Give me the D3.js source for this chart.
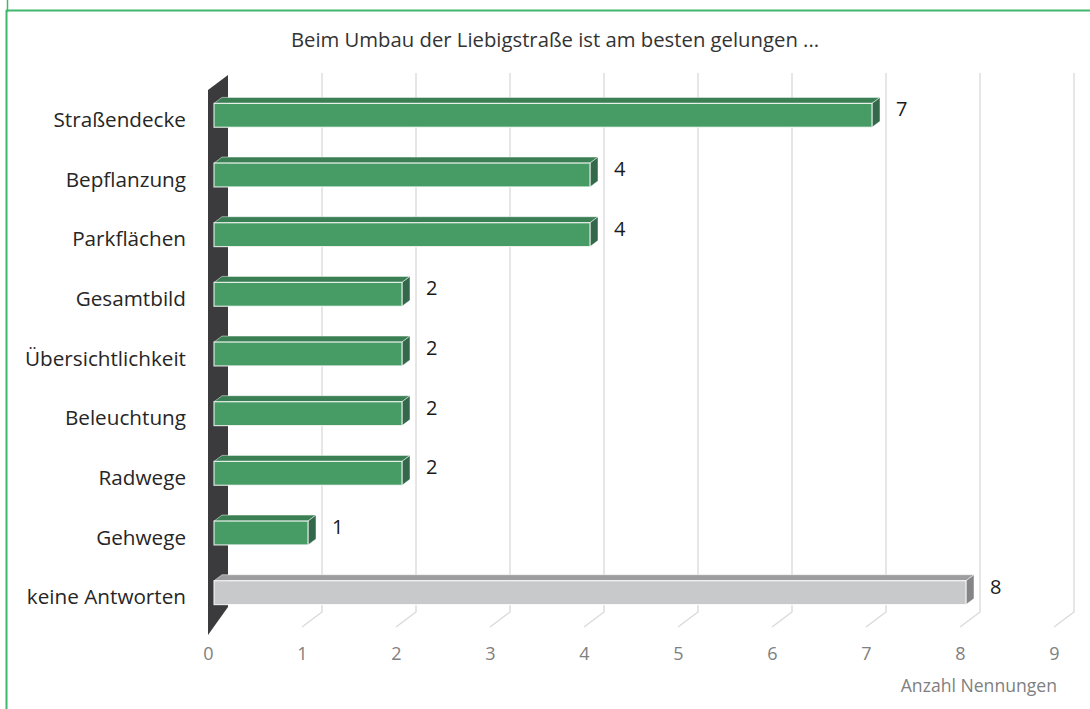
<!DOCTYPE html>
<html>
<head>
<meta charset="utf-8">
<script src="https://cdn.jsdelivr.net/npm/d3@7"></script>
<style>
  body { margin: 0; background: #fff; }
  text { font-family: "Open Sans", "Noto Sans", sans-serif; }
</style>
</head>
<body>
<div id="chart"></div>
<script>
var categories = ["Straßendecke", "Bepflanzung", "Parkflächen", "Gesamtbild", "Übersichtlichkeit",
                  "Beleuchtung", "Radwege", "Gehwege", "keine Antworten"];
var values = [7, 4, 4, 2, 2, 2, 2, 1, 8];
var ticks = [0, 1, 2, 3, 4, 5, 6, 7, 8, 9];
var title = "Beim Umbau der Liebigstraße ist am besten gelungen ...";
var axisTitle = "Anzahl Nennungen";

var width = 1090, height = 709;

var svg = d3.select("#chart").append("svg")
    .attr("width", width)
    .attr("height", height);

// 3d depth: full depth moves (+20, -15)
var depthX = 20, depthY = -15;
function off(f) { return [depthX * f, depthY * f]; }

var x = d3.scaleLinear().domain([0, 9]).range([208, 208 + 94 * 9]);
var y = d3.scaleBand().domain(categories).range([90, 627]).paddingInner(0.6).paddingOuter(0.3);

// green frame
var frame = "#3fb86b";
svg.append("line").attr("x1", 6).attr("x2", width).attr("y1", 10.5).attr("y2", 10.5)
    .attr("stroke", frame).attr("stroke-width", 2);
svg.append("line").attr("x1", 6.5).attr("x2", 6.5).attr("y1", 10).attr("y2", height)
    .attr("stroke", frame).attr("stroke-width", 2);
svg.append("line").attr("x1", 7.5).attr("x2", 7.5).attr("y1", 0).attr("y2", 12)
    .attr("stroke", frame).attr("stroke-width", 1.5);

// title
svg.append("text")
    .attr("x", 555).attr("y", 47)
    .attr("text-anchor", "middle")
    .attr("fill", "#333")
    .style("font-size", "20.3px")
    .text(title);

var yTop = y.range()[0], yBot = y.range()[1];
var back = off(1);

// back wall gridlines + floor lines
var grid = svg.append("g").attr("stroke", "#d9d9d9").attr("stroke-width", 1.3).attr("fill", "none");
ticks.slice(1).forEach(function(t) {
  var bx = x(t) + back[0];
  grid.append("path")
      .attr("d", "M" + bx + "," + (yTop + back[1] - 2) + "L" + bx + "," + (yBot + back[1]) +
                 "L" + x(t) + "," + yBot);
});

// dark side wall
svg.append("path")
    .attr("d", "M208,90L228,75L228,607L208,635Z")
    .attr("fill", "#3b3b3d");

// bars
var fFront = 0.3, fBack = 0.7;
var pf = off(fFront), pb = off(fBack);
var dx = pb[0] - pf[0], dy = pb[1] - pf[1];

var colors = {
  green: { front: "#479c66", top: "#3b7f54", side: "#33694a" },
  gray:  { front: "#c8c9cb", top: "#9d9d9f", side: "#858587" }
};

var bars = svg.selectAll(".bar")
    .data(categories.map(function(c, i) { return { cat: c, v: values[i], last: i === categories.length - 1 }; }))
  .enter().append("g")
    .attr("class", "bar");

bars.each(function(d) {
  var g = d3.select(this);
  var c = d.last ? colors.gray : colors.green;
  var x0 = x(0) + pf[0], x1 = x(d.v) + pf[0];
  var y0 = y(d.cat) + pf[1], y1 = y0 + y.bandwidth();
  // top face
  g.append("path")
      .attr("d", "M" + x0 + "," + y0 + "L" + (x0 + dx) + "," + (y0 + dy) + "L" + (x1 + dx) + "," + (y0 + dy) +
                 "L" + x1 + "," + y0 + "Z")
      .attr("fill", c.top).attr("stroke", "#fff").attr("stroke-opacity", 0.6).attr("stroke-width", 0.8);
  // side face
  g.append("path")
      .attr("d", "M" + x1 + "," + y0 + "L" + (x1 + dx) + "," + (y0 + dy) + "L" + (x1 + dx) + "," + (y1 + dy) +
                 "L" + x1 + "," + y1 + "Z")
      .attr("fill", c.side).attr("stroke", "#fff").attr("stroke-opacity", 0.6).attr("stroke-width", 0.8);
  // front face
  g.append("rect")
      .attr("x", x0).attr("y", y0)
      .attr("width", x1 - x0).attr("height", y1 - y0)
      .attr("fill", c.front).attr("stroke", "#fff").attr("stroke-opacity", 0.8).attr("stroke-width", 1.2);
  // value label
  g.append("text")
      .attr("x", x1 + dx + 16)
      .attr("y", (y0 + y1) / 2 + dy + 7)
      .attr("fill", "#1a1a1a")
      .style("font-size", "20px")
      .text(d.v);
});

// category labels
svg.append("g").selectAll("text")
    .data(categories)
  .enter().append("text")
    .attr("x", 186)
    .attr("y", function(d) { return y(d) + y.bandwidth() / 2; })
    .attr("dy", "0.35em")
    .attr("text-anchor", "end")
    .attr("fill", "#262626")
    .style("font-size", "20.7px")
    .text(function(d) { return d; });

// value axis (front edge)
var axis = svg.append("g")
    .attr("transform", "translate(0," + (yBot + 17) + ")")
    .call(d3.axisBottom(x).tickValues(ticks).tickSize(0).tickFormat(d3.format("d")));
axis.select(".domain").remove();
axis.selectAll("text")
    .attr("fill", "#808080")
    .style("font-size", "18px")
    .style("font-family", "'Open Sans', 'Noto Sans', sans-serif");

svg.append("text")
    .attr("x", 1057).attr("y", 692)
    .attr("text-anchor", "end")
    .attr("fill", "#808080")
    .style("font-size", "17.6px")
    .text(axisTitle);
</script>
</body>
</html>
